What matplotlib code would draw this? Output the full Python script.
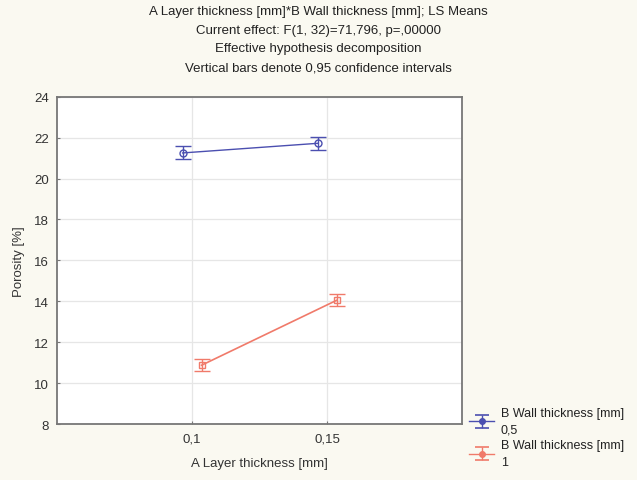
import numpy as np
import matplotlib
matplotlib.use('Agg')
import matplotlib.pyplot as plt

# data
layer = [0.10, 0.15]                      # A Layer thickness [mm]
wall_labels = ['B Wall thickness [mm]\n0,5', 'B Wall thickness [mm]\n1']
means_05 = [21.25, 21.72]
ci_05 = [0.32, 0.32]
means_1 = [10.88, 14.05]
ci_1 = [0.30, 0.30]

xticks = [0.10, 0.15]
xtick_labels = ['0,1', '0,15']
yticks = [8, 10, 12, 14, 16, 18, 20, 22, 24]

plt.rcParams['font.family'] = ['Liberation Sans', 'DejaVu Sans']

bg = '#FAF9F1'
blue = '#4B4FB0'
red = '#F07A6A'

fig = plt.figure(figsize=(6.37, 4.81), dpi=100)
fig.patch.set_facecolor(bg)
ax = fig.add_axes([0.0895, 0.116, 0.636, 0.681])
ax.set_facecolor('white')

# small horizontal offsets so the two series don't overlap
off = 0.0035
x05 = np.array(layer) - off
x1 = np.array(layer) + off

ax.errorbar(x05, means_05, yerr=ci_05, color=blue, lw=1.0, marker='o', ms=5,
            mfc='none', mec=blue, mew=1.0, capsize=6, capthick=1.2, elinewidth=1.0,
            zorder=3)
ax.errorbar(x1, means_1, yerr=ci_1, color=red, lw=1.2, marker='s', ms=5,
            mfc='none', mec=red, mew=1.0, capsize=6, capthick=1.2, elinewidth=1.0,
            zorder=3)

# legend proxies: filled dot with error bar icon
h1 = ax.errorbar([np.nan], [np.nan], yerr=[0.3], color=blue, lw=1.0, marker='o',
                 ms=4, capsize=5, capthick=1.2)
h2 = ax.errorbar([np.nan], [np.nan], yerr=[0.3], color=red, lw=1.0, marker='o',
                 ms=4, capsize=5, capthick=1.2)

ax.set_xlim(0.05, 0.20)
ax.set_ylim(8, 24)
ax.set_xticks(xticks)
ax.set_xticklabels(xtick_labels)
ax.set_yticks(yticks)
ax.tick_params(direction='in', length=2, labelsize=9.5, color='#777777',
               labelcolor='#333333', pad=6)
ax.grid(True, color='#E6E6E6', lw=0.9)
ax.set_axisbelow(True)
for s in ax.spines.values():
    s.set_color('#777777')
    s.set_linewidth(1.3)

ax.set_xlabel('A Layer thickness [mm]', fontsize=9.5, color='#333333', labelpad=9)
ax.set_ylabel('Porosity [%]', fontsize=9.5, color='#333333', labelpad=6)

fig.text(0.5, 0.988,
         'A Layer thickness [mm]*B Wall thickness [mm]; LS Means\n'
         'Current effect: F(1, 32)=71,796, p=,00000\n'
         'Effective hypothesis decomposition\n'
         'Vertical bars denote 0,95 confidence intervals',
         ha='center', va='top', fontsize=9.5, color='#222222', linespacing=1.75)

leg = fig.legend([h1, h2], wall_labels, loc='lower left',
                 bbox_to_anchor=(0.725, 0.01), frameon=False, fontsize=9,
                 handlelength=2.0, handletextpad=0.5, labelspacing=0.3,
                 borderaxespad=0.2)
for t in leg.get_texts():
    t.set_color('#222222')
    t.set_linespacing(1.5)

fig.savefig('out.png', dpi=100, facecolor=bg)
